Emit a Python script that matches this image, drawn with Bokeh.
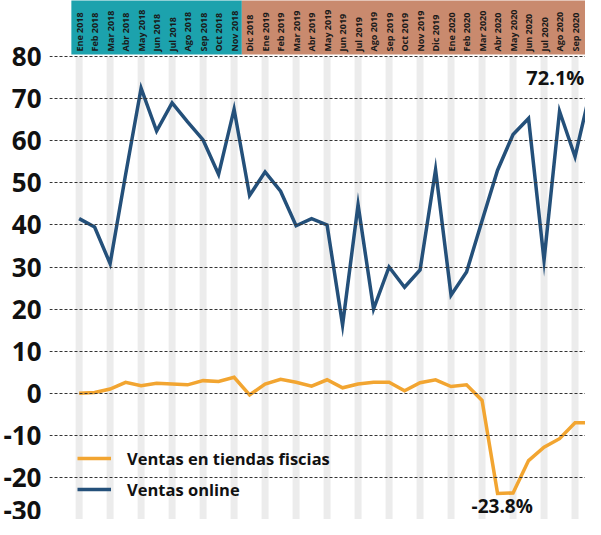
import math
from bokeh.plotting import figure
from bokeh.models import Range1d, FixedTicker, Legend, LegendItem
from bokeh.embed import file_html
from bokeh.resources import INLINE
from bokeh.core.properties import value

months = ["Ene 2018", "Feb 2018", "Mar 2018", "Abr 2018", "May 2018", "Jun 2018",
          "Jul 2018", "Ago 2018", "Sep 2018", "Oct 2018", "Nov 2018", "Dic 2018",
          "Ene 2019", "Feb 2019", "Mar 2019", "Abr 2019", "May 2019", "Jun 2019",
          "Jul 2019", "Ago 2019", "Sep 2019", "Oct 2019", "Nov 2019", "Dic 2019",
          "Ene 2020", "Feb 2020", "Mar 2020", "Abr 2020", "May 2020", "Jun 2020",
          "Jul 2020", "Ago 2020", "Sep 2020", "Oct 2020"]

ventas_online = [41.5, 39.5, 30.8, 52.0, 72.5, 62.3, 69.0, 64.5, 60.2, 52.0, 67.5, 47.0,
                 52.6, 48.0, 39.8, 41.5, 40.0, 16.2, 44.8, 20.0, 30.0, 25.2, 29.3, 53.1,
                 23.3, 28.8, 41.0, 53.0, 61.5, 65.3, 31.6, 67.0, 56.2, 72.1]

ventas_fisicas = [0.0, 0.2, 1.0, 2.6, 1.8, 2.4, 2.2, 2.0, 3.0, 2.8, 3.8, -0.4,
                  2.2, 3.3, 2.6, 1.7, 3.2, 1.3, 2.2, 2.6, 2.6, 0.6, 2.5, 3.2,
                  1.6, 2.0, -1.7, -23.8, -23.7, -16.0, -12.8, -10.8, -7.0, -7.0]

y_ticks = [-30, -20, -10, 0, 10, 20, 30, 40, 50, 60, 70, 80]

x = list(range(len(months)))
visible = len(months) - 1  # Oct 2020 lies just beyond the right edge

p = figure(width=585, height=519, output_backend="svg", toolbar_location=None,
           x_range=Range1d(-1.911, 32.675), y_range=Range1d(-30, 93.33),
           x_axis_location=None, min_border_left=42, min_border_right=0,
           min_border_top=0, min_border_bottom=0)
p.outline_line_color = None
p.background_fill_color = "white"
p.border_fill_color = "white"
p.xgrid.visible = False

ax = p.yaxis[0]
ax.ticker = FixedTicker(ticks=y_ticks)
ax.major_label_overrides = {t: f"{t}" for t in y_ticks}
ax.axis_line_color = None
ax.major_tick_line_color = None
ax.minor_tick_line_color = None
ax.major_tick_in = 0
ax.major_tick_out = 0
ax.minor_tick_in = 0
ax.minor_tick_out = 0
ax.major_label_text_font = "Open Sans"
ax.major_label_text_font_style = "bold"
ax.major_label_text_font_size = "26px"
ax.major_label_text_color = "#111111"
ax.major_label_standoff = 8

p.ygrid.grid_line_color = "#333333"
p.ygrid.grid_line_dash = "3 2"
p.ygrid.grid_line_width = 1
p.ygrid.level = "glyph"

# light vertical bands at every other month
band_x = x[::2]
p.vbar(x=band_x, width=0.45, bottom=-30, top=80, fill_color="#ececec",
       line_color=None, level="underlay")

# header boxes
p.quad(left=[-0.5, 10.5], right=[10.5, 34], bottom=80.48, top=95,
       fill_color=["#1ca2ad", "#c98a6e"], line_color=None)
p.text(x=x[:visible], y=[81.2] * visible, text=months[:visible], angle=math.pi / 2,
       text_align="left", text_baseline="middle", text_font=value("Open Sans"),
       text_font_style="bold", text_font_size="9px", text_color="#1a1a1a")

orange = p.line(x, ventas_fisicas, line_color="#f2a531", line_width=3.5,
                line_join="miter")
navy = p.line(x, ventas_online, line_color="#24507a", line_width=3.5,
              line_join="miter")

p.text(x=[32.6], y=[75.0], text=[f"{ventas_online[33]}%"], text_align="right",
       text_baseline="middle", text_font=value("Open Sans"), text_font_style="bold",
       text_font_size="20px", text_color="#111111")
p.text(x=[27.3], y=[-26.9], text=[f"{ventas_fisicas[27]}%"], text_align="center",
       text_baseline="middle", text_font=value("Open Sans"), text_font_style="bold",
       text_font_size="19px", text_color="#111111")

legend = Legend(items=[LegendItem(label="Ventas en tiendas fiscias", renderers=[orange]),
                       LegendItem(label="Ventas online", renderers=[navy])],
                location=(28, 14.5), orientation="vertical", glyph_width=34,
                glyph_height=20, label_height=31, label_standoff=16, spacing=0,
                padding=0, margin=0, background_fill_alpha=0, border_line_color=None,
                label_text_font="Open Sans", label_text_font_style="bold",
                label_text_font_size="16.5px", label_text_color="#111111")
p.add_layout(legend)

open("out.html", "w").write(file_html(p, INLINE))
